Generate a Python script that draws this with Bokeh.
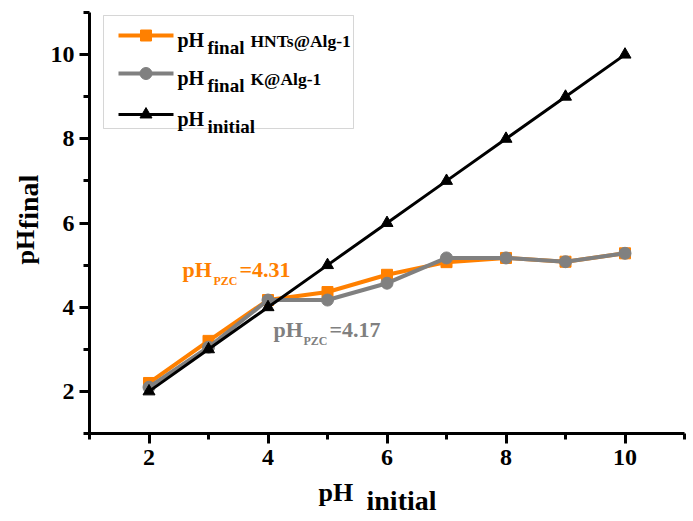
import math
from bokeh.plotting import figure
from bokeh.layouts import row, column
from bokeh.models import Range1d, SingleIntervalTicker, Label, BoxAnnotation
from bokeh.embed import file_html
from bokeh.resources import INLINE

# pH drift measurements
ph_initial = [2, 3, 4, 5, 6, 7, 8, 9, 10]
ph_final_hnts = [2.20, 3.20, 4.17, 4.36, 4.77, 5.07, 5.17, 5.08, 5.28]
ph_final_k = [2.10, 3.05, 4.17, 4.17, 4.57, 5.17, 5.17, 5.08, 5.28]
ph_reference = [2, 3, 4, 5, 6, 7, 8, 9, 10]

pzc_hnts = 4.31
pzc_k = 4.17

ORANGE = "#FF8000"
GRAY = "#808080"
BLACK = "#000000"
FONT = "Liberation Serif"

# page geometry (pixels)
W, H = 693, 521
YTITLE_W = 46          # strip holding the vertical axis title
XTITLE_H = 45          # strip holding the horizontal axis title
MAIN_W, MAIN_H = W - YTITLE_W, H - XTITLE_H
LEFT, RIGHT, TOP, BOTTOM = 89, 684, 12, 433   # plot frame, page coordinates
XMIN, XMAX, YMIN, YMAX = 1, 11, 1, 11
RAISE = 0.28           # baseline correction for labels, in em

p = figure(width=MAIN_W, height=MAIN_H, output_backend="svg", toolbar_location=None,
           x_range=Range1d(XMIN, XMAX), y_range=Range1d(YMIN, YMAX),
           min_border_left=LEFT - YTITLE_W, min_border_right=W - RIGHT,
           min_border_top=TOP, min_border_bottom=MAIN_H - BOTTOM)
p.outline_line_color = None
p.xgrid.visible = False
p.ygrid.visible = False

for ax in (p.xaxis[0], p.yaxis[0]):
    ax.ticker = SingleIntervalTicker(interval=2, num_minor_ticks=2)
    ax.axis_line_width = 3
    ax.axis_line_color = BLACK
    ax.major_tick_line_width = 3
    ax.minor_tick_line_width = 3
    ax.major_tick_in = 0
    ax.major_tick_out = 10
    ax.minor_tick_in = 0
    ax.minor_tick_out = 6
    ax.major_label_text_font = FONT
    ax.major_label_text_font_style = "bold"
    ax.major_label_text_font_size = "24px"
    ax.major_label_text_color = BLACK
p.xaxis.major_label_standoff = 6
p.yaxis.major_label_standoff = 5


def dx(px):
    return XMIN + (px - LEFT) * (XMAX - XMIN) / (RIGHT - LEFT)


def dy(py):
    return YMIN + (BOTTOM - py) * (YMAX - YMIN) / (BOTTOM - TOP)


# series
p.line(ph_initial, ph_final_hnts, line_color=ORANGE, line_width=4)
p.scatter(ph_initial, ph_final_hnts, marker="square", size=11, color=ORANGE)
p.line(ph_initial, ph_final_k, line_color=GRAY, line_width=4)
p.scatter(ph_initial, ph_final_k, marker="circle", size=12, color=GRAY)
p.line(ph_initial, ph_reference, line_color=BLACK, line_width=3)
p.scatter(ph_initial, ph_reference, marker="triangle", size=12, color=BLACK)


def text_on(fig, x, y, text, size, color=BLACK, angle=0.0):
    fig.add_layout(Label(x=x, y=y, text=text, text_font=FONT,
                         text_font_style="bold", text_font_size=f"{size}px",
                         text_color=color, text_baseline="alphabetic",
                         text_align="left", angle=angle))


def label(px, py, text, size, color=BLACK):
    # px, py: page position of the text baseline start
    text_on(p, dx(px), dy(py - RAISE * size), text, size, color)


# point-of-zero-charge annotations
label(182, 275, "pH", 22, ORANGE)
label(213, 284, "PZC", 12, ORANGE)
label(239, 275, f"={pzc_hnts:.2f}", 22, ORANGE)
label(273, 335, "pH", 22, GRAY)
label(303, 344, "PZC", 12, GRAY)
label(329, 335, f"={pzc_k:.2f}", 22, GRAY)

# legend frame
p.add_layout(BoxAnnotation(left=dx(103), right=dx(353), top=dy(15), bottom=dy(128),
                           fill_color="white", fill_alpha=1.0,
                           line_color="#777777", line_width=1, level="underlay"))

legend_rows = [
    (35, ORANGE, "square", 11, 4, "final", "HNTs@Alg-1"),
    (73, GRAY, "circle", 12, 4, "final", "K@Alg-1"),
    (114, BLACK, "triangle", 12, 3, "initial", ""),
]
for ry, col, mk, msize, lw, sub, name in legend_rows:
    p.line([dx(118), dx(173)], [dy(ry), dy(ry)], line_color=col, line_width=lw)
    p.scatter([dx(145.5)], [dy(ry)], marker=mk, size=msize, color=col)
    label(177, ry + 10, "pH", 20)
    label(207, ry + 17, sub, 19)
    if name:
        label(250, ry + 10, name, 17.5)


def title_strip(width, height):
    f = figure(width=width, height=height, output_backend="svg", toolbar_location=None,
               x_range=Range1d(0, width), y_range=Range1d(0, height),
               x_axis_location=None, y_axis_location=None, min_border=0)
    f.outline_line_color = None
    f.grid.visible = False
    return f


# horizontal axis title: pH with subscript "initial" (strip spans the page width)
fx = title_strip(W, XTITLE_H)
text_on(fx, 318, H - 499 + RAISE * 26, "pH", 26)
text_on(fx, 366, H - 508 + RAISE * 28, "initial", 28)

# vertical axis title: pH with subscript "final"
fy = title_strip(YTITLE_W, MAIN_H)
text_on(fy, 32 - RAISE * 26, MAIN_H - 285, "pH", 26, angle=math.pi / 2)
text_on(fy, 36 - RAISE * 28, MAIN_H - 245, "final", 28, angle=math.pi / 2)

layout = column(row(fy, p, spacing=0), fx, spacing=0)
open("out.html", "w").write(file_html(layout, INLINE))
